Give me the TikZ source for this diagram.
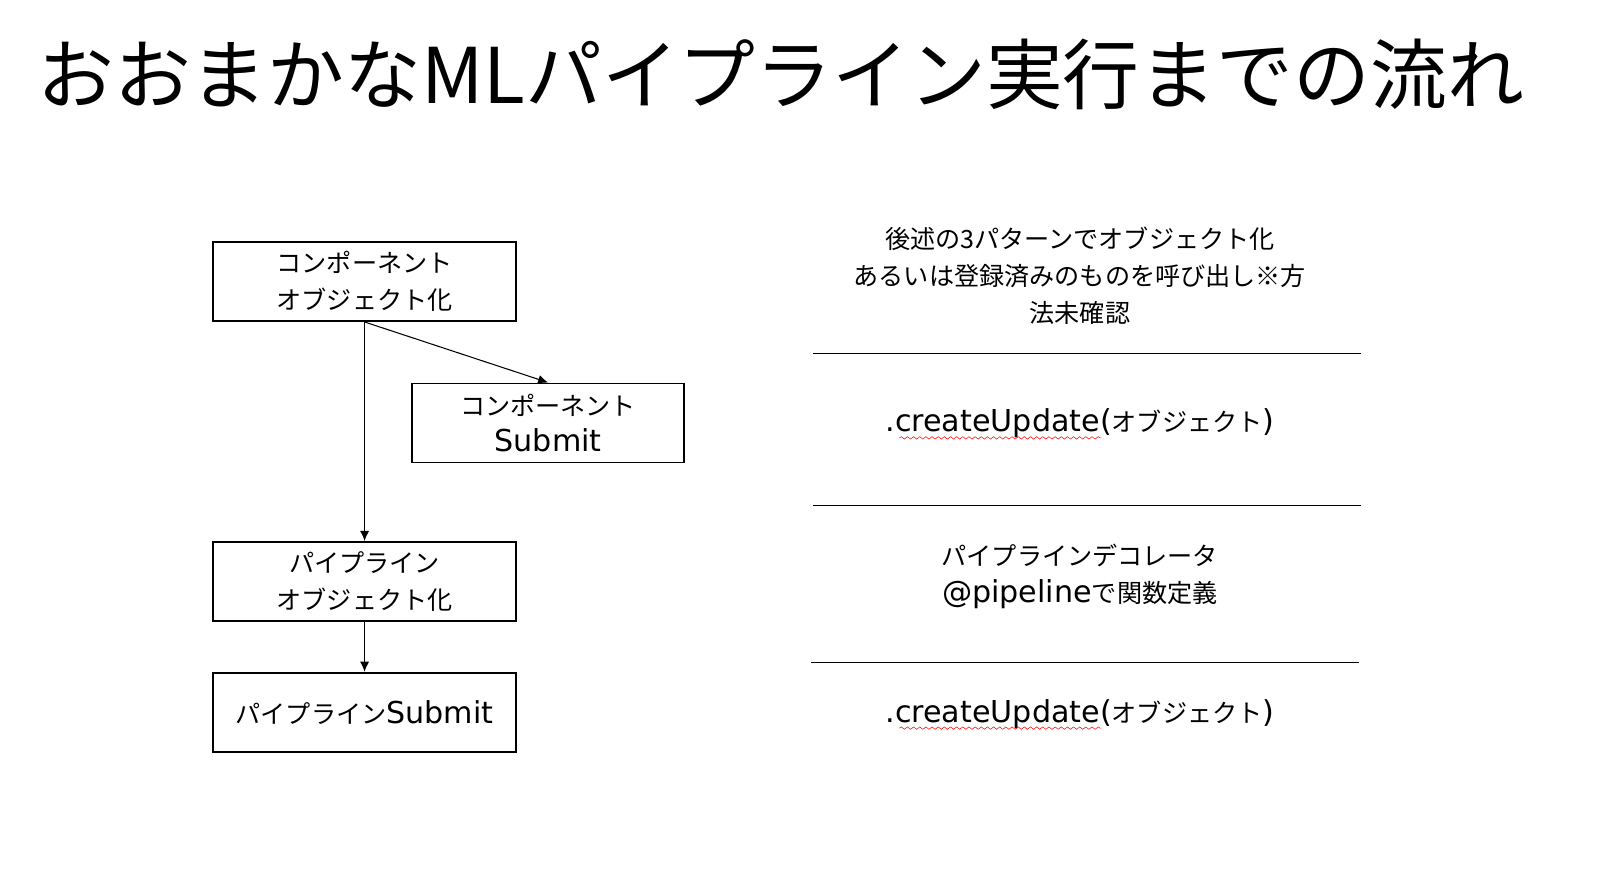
\documentclass[tikz,border=0pt]{standalone}
\usepackage{fontspec}
\setmainfont{Noto Sans CJK JP}
\newfontfamily\lat[Scale=1.2]{DejaVu Sans}
\usetikzlibrary{
    arrows.meta,
    positioning,
    decorations.pathmorphing
}
\tikzset{stepbox/.style={draw=black, line width=1.1pt, minimum height=1.58cm, align=center, inner sep=0pt, font=\fontsize{14.3}{21}\selectfont}}
\tikzset{sidetxt/.style={align=center, inner sep=0pt, font=\fontsize{14.3}{21}\selectfont}}
\tikzset{flowarr/.style={-{Latex[length=2mm, width=1.8mm]}, line width=0.6pt}}
\tikzset{spellmark/.style={red, line width=0.3pt, decorate, decoration={snake, amplitude=0.7, segment length=3.5}}}

\begin{document}
\begin{tikzpicture}[x=0.02051cm, y=-0.02051cm]
                        \useasboundingbox[fill=white] (0, 0) rectangle (1568, 872.7);
                        \node[anchor=base west, inner sep=0pt, font=\fontsize{43.7}{44}\selectfont] (ttl) at (36, 101) {おおまかなMLパイプライン実行までの流れ};
                        \node[stepbox, minimum width=6.05cm] (cobj) at (355.5, 274.5) {コンポーネント\\オブジェクト化};
                        \node[stepbox, minimum width=5.44cm] (csub) at (534.5, 412.5) {コンポーネント\\{\lat Submit}};
                        \node[stepbox, minimum width=6.05cm] (pobj) at (355.5, 567) {パイプライン\\オブジェクト化};
                        \node[stepbox, minimum width=6.05cm] (psub) at (355.5, 694.5) {パイプライン{\lat Submit}};
                        \foreach \a/\b in {cobj/csub, cobj/pobj, pobj/psub}
                        \draw[flowarr] (\a.south) -- (\b.north);
                        \node[sidetxt] (t1) at (1053, 269) {後述の3パターンでオブジェクト化\\あるいは登録済みのものを呼び出し※方\\法未確認};
                        \node[sidetxt] (t2) at (1053, 413) {{\lat .createUpdate(}オブジェクト{\lat )}};
                        \node[sidetxt] (t3) at (1053, 562) {パイプラインデコレータ\\{\lat @pipeline}で関数定義};
                        \node[sidetxt] (t4) at (1053, 696) {{\lat .createUpdate(}オブジェクト{\lat )}};
                        \draw[line width=0.6pt]
                        (793, 345) -- (1327, 345)
                        (793, 493) -- (1327, 493)
                        (791, 646) -- (1325, 646);
                        \draw[spellmark] (877, 427) -- (1074, 427);
                        \draw[spellmark] (877, 710) -- (1074, 710);
                    \end{tikzpicture}
\end{document}
